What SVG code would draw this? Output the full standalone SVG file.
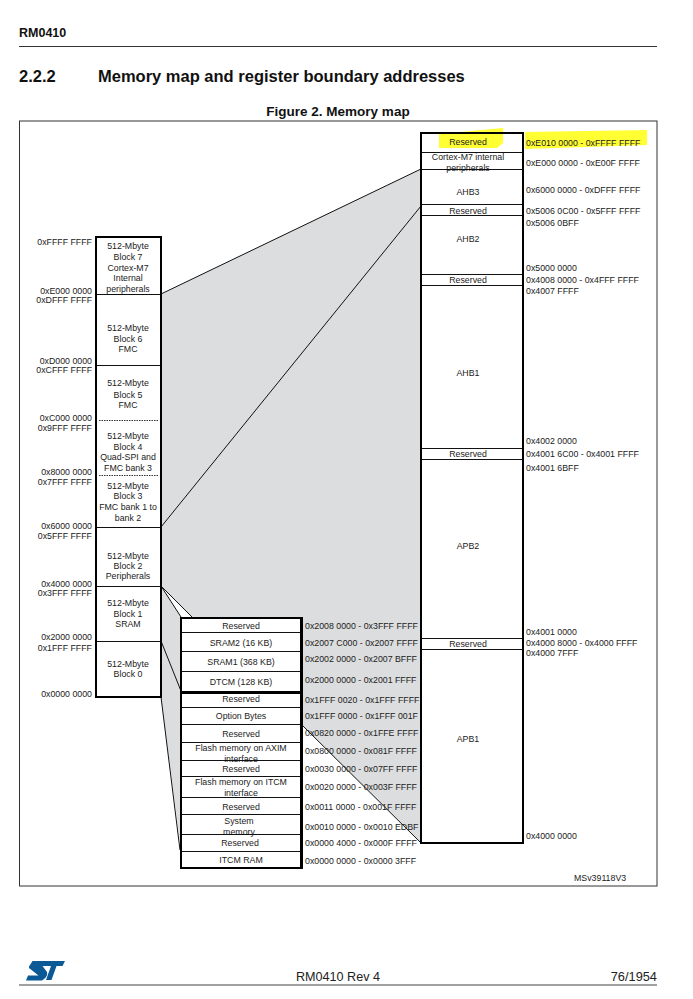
<svg xmlns="http://www.w3.org/2000/svg" width="693" height="999" viewBox="0 0 693 999">
<style>
text{font-family:"Liberation Sans",Arial,sans-serif;fill:#222}
.l{font-size:8.8px;text-anchor:middle}
.a{font-size:8.8px}
.r{font-size:8.8px;text-anchor:end}
.c{fill:none;stroke:#111;stroke-width:1;shape-rendering:crispEdges}
.f{fill:none;stroke:#000;stroke-width:2.2;shape-rendering:crispEdges}
.k{fill:none;stroke:#111;stroke-width:1}
.d{stroke:#333;stroke-width:1;stroke-dasharray:1.5 1;fill:none}
.h{font-weight:bold;fill:#111}
</style>
<rect width="693" height="999" fill="#fff"/>
<g id="page-header">
<text class="h" x="19" y="37" font-size="12.5">RM0410</text>
<line x1="19" y1="46.5" x2="657" y2="46.5" stroke="#333"/>
<text class="h" x="19" y="82" font-size="16.5">2.2.2</text>
<text class="h" x="98" y="82" font-size="16.5">Memory map and register boundary addresses</text>
<text class="h" x="338" y="116" font-size="13.5" text-anchor="middle">Figure 2. Memory map</text>
</g>
<rect id="figure-frame" x="19.5" y="121" width="637.5" height="765" fill="#fff" stroke="#333"/>
<g id="connectors">
<polygon points="161,294 421,169 421,843 301,724 301,618 192,617 181,617 161,586" fill="#dcddde"/>
<polygon points="161,586 181,617 181,850 161,697" fill="#dcddde"/>
<polygon points="161,586 181,617 192,617" fill="#fff"/>
<path class="k" d="M161 294L421 169M161 527L421 206M161 586L181 617M161 586L192 617M161 641L181 691M161 697L180 850M301 724L421 843"/>
</g>
<g id="column-backgrounds" fill="#fff">
<rect x="96" y="237" width="65" height="460"/>
<rect x="181" y="618" width="121" height="250"/>
<rect x="421" y="133" width="102" height="710"/>
</g>
<g id="highlight" fill="#ffff33">
<path d="M439 134L503 128L503 143L497 148L439 148Z"/>
<path d="M525 132L647 130L647 145L525 149Z"/>
</g>
<g id="block-7"><rect class="c" x="96" y="237" width="65" height="57"/><text class="l" x="128" y="249">512-Mbyte</text><text class="l" x="128" y="260">Block 7</text><text class="l" x="128" y="270.500">Cortex-M7</text><text class="l" x="128" y="281">Internal</text><text class="l" x="128" y="291.500">peripherals</text><text class="r" x="92" y="245">0xFFFF FFFF</text><text class="r" x="92" y="293.500">0xE000 0000</text></g>
<g id="block-6"><rect class="c" x="96" y="294" width="65" height="71.500"/><text class="l" x="128" y="331">512-Mbyte</text><text class="l" x="128" y="341.700">Block 6</text><text class="l" x="128" y="352">FMC</text><text class="r" x="92" y="303">0xDFFF FFFF</text><text class="r" x="92" y="364">0xD000 0000</text></g>
<g id="block-5"><text class="l" x="128" y="386">512-Mbyte</text><text class="l" x="128" y="397.500">Block 5</text><text class="l" x="128" y="408">FMC</text><text class="r" x="92" y="373">0xCFFF FFFF</text><text class="r" x="92" y="420.500">0xC000 0000</text></g>
<g id="block-4"><text class="l" x="128" y="438.500">512-Mbyte</text><text class="l" x="128" y="449.500">Block 4</text><text class="l" x="128" y="460">Quad-SPI and</text><text class="l" x="128" y="470.500">FMC bank 3</text><text class="r" x="92" y="430.500">0x9FFF FFFF</text><text class="r" x="92" y="475">0x8000 0000</text><path class="d" d="M99 420.500H159"/></g>
<g id="block-3"><text class="l" x="128" y="488.500">512-Mbyte</text><text class="l" x="128" y="498.500">Block 3</text><text class="l" x="128" y="510">FMC bank 1 to</text><text class="l" x="128" y="520.500">bank 2</text><text class="r" x="92" y="485">0x7FFF FFFF</text><text class="r" x="92" y="528.500">0x6000 0000</text><path class="d" d="M99 475.500H159"/></g>
<g id="block-2"><rect class="c" x="96" y="527" width="65" height="59"/><text class="l" x="128" y="558.500">512-Mbyte</text><text class="l" x="128" y="569">Block 2</text><text class="l" x="128" y="579">Peripherals</text><text class="r" x="92" y="538.500">0x5FFF FFFF</text><text class="r" x="92" y="586.500">0x4000 0000</text></g>
<g id="block-1"><rect class="c" x="96" y="586" width="65" height="55"/><text class="l" x="128" y="606">512-Mbyte</text><text class="l" x="128" y="616.500">Block 1</text><text class="l" x="128" y="627">SRAM</text><text class="r" x="92" y="596">0x3FFF FFFF</text><text class="r" x="92" y="640">0x2000 0000</text></g>
<g id="block-0"><rect class="c" x="96" y="641" width="65" height="56"/><text class="l" x="128" y="666.500">512-Mbyte</text><text class="l" x="128" y="677">Block 0</text><text class="r" x="92" y="651">0x1FFF FFFF</text><text class="r" x="92" y="696.500">0x0000 0000</text></g>
<rect id="blocks-outline" class="f" x="96" y="237" width="65" height="460"/>
<g id="sram-reserved"><rect class="c" x="181" y="618" width="121" height="14"/><text class="l" x="241" y="629">Reserved</text><text class="a" x="305" y="629">0x2008 0000 - 0x3FFF FFFF</text></g>
<g id="sram2"><rect class="c" x="181" y="632" width="121" height="19"/><text class="l" x="241" y="645.500">SRAM2 (16 KB)</text><text class="a" x="305" y="646">0x2007 C000 - 0x2007 FFFF</text></g>
<g id="sram1"><rect class="c" x="181" y="651" width="121" height="20.500"/><text class="l" x="241" y="665">SRAM1 (368 KB)</text><text class="a" x="305" y="662">0x2002 0000 - 0x2007 BFFF</text></g>
<g id="dtcm"><rect class="c" x="181" y="671.500" width="121" height="21"/><text class="l" x="241" y="684.500">DTCM (128 KB)</text><text class="a" x="305" y="683">0x2000 0000 - 0x2001 FFFF</text></g>
<g id="code-reserved-1"><rect class="c" x="181" y="692.500" width="121" height="14.500"/><text class="l" x="241" y="702">Reserved</text><text class="a" x="305" y="703">0x1FFF 0020 - 0x1FFF FFFF</text></g>
<g id="option-bytes"><rect class="c" x="181" y="707" width="121" height="17.500"/><text class="l" x="241" y="719">Option Bytes</text><text class="a" x="305" y="718.500">0x1FFF 0000 - 0x1FFF 001F</text></g>
<g id="code-reserved-2"><rect class="c" x="181" y="724.500" width="121" height="17.500"/><text class="l" x="241" y="736.500">Reserved</text><text class="a" x="305" y="736">0x0820 0000 - 0x1FFE FFFF</text></g>
<g id="flash-axim"><rect class="c" x="181" y="742" width="121" height="18.500"/><text class="l" x="241" y="751">Flash memory on AXIM</text><text class="l" x="241" y="761.500">interface</text><text class="a" x="305" y="754">0x0800 0000 - 0x081F FFFF</text></g>
<g id="code-reserved-3"><rect class="c" x="181" y="760.500" width="121" height="15.500"/><text class="l" x="241" y="771.500">Reserved</text><text class="a" x="305" y="771.500">0x0030 0000 - 0x07FF FFFF</text></g>
<g id="flash-itcm"><rect class="c" x="181" y="776" width="121" height="21"/><text class="l" x="241" y="785">Flash memory on ITCM</text><text class="l" x="241" y="795.500">interface</text><text class="a" x="305" y="790">0x0020 0000 - 0x003F FFFF</text></g>
<g id="code-reserved-4"><rect class="c" x="181" y="797" width="121" height="17"/><text class="l" x="241" y="809.500">Reserved</text><text class="a" x="305" y="809.500">0x0011 0000 - 0x001F FFFF</text></g>
<g id="system-memory"><rect class="c" x="181" y="814" width="121" height="20"/><text class="l" x="239" y="824">System</text><text class="l" x="239" y="834.500">memory</text><text class="a" x="305" y="829.500">0x0010 0000 - 0x0010 EDBF</text></g>
<g id="code-reserved-5"><rect class="c" x="181" y="834" width="121" height="17.500"/><text class="l" x="240" y="845.500">Reserved</text><text class="a" x="305" y="845.500">0x0000 4000 - 0x000F FFFF</text></g>
<g id="itcm-ram"><rect class="c" x="181" y="851.500" width="121" height="16.500"/><text class="l" x="241" y="862.500">ITCM RAM</text><text class="a" x="305" y="864">0x0000 0000 - 0x0000 3FFF</text></g>
<rect id="sram-outline" class="f" x="181" y="618" width="120.500" height="74.500"/>
<rect id="code-outline" class="f" x="181" y="692.500" width="120.500" height="175.500"/>
<g id="periph-reserved-top"><rect class="c" x="421" y="133" width="102" height="19"/><text class="l" x="468" y="145">Reserved</text><text class="a" x="526" y="146">0xE010 0000 - 0xFFFF FFFF</text></g>
<g id="cortex-m7"><rect class="c" x="421" y="152" width="102" height="17.500"/><text class="l" x="468" y="160">Cortex-M7 internal</text><text class="l" x="468" y="170.500">peripherals</text><text class="a" x="526" y="166">0xE000 0000 - 0xE00F FFFF</text></g>
<g id="ahb3"><rect class="c" x="421" y="169.500" width="102" height="34.500"/><text class="l" x="468" y="195">AHB3</text><text class="a" x="526" y="193">0x6000 0000 - 0xDFFF FFFF</text></g>
<g id="periph-reserved-2"><rect class="c" x="421" y="204" width="102" height="11.500"/><text class="l" x="468" y="214">Reserved</text><text class="a" x="526" y="214">0x5006 0C00 - 0x5FFF FFFF</text></g>
<g id="ahb2"><rect class="c" x="421" y="215.500" width="102" height="59"/><text class="l" x="468" y="242">AHB2</text><text class="a" x="526" y="226">0x5006 0BFF</text><text class="a" x="526" y="271">0x5000 0000</text></g>
<g id="periph-reserved-3"><rect class="c" x="421" y="274.500" width="102" height="11"/><text class="l" x="468" y="283">Reserved</text><text class="a" x="526" y="282.500">0x4008 0000 - 0x4FFF FFFF</text></g>
<g id="ahb1"><rect class="c" x="421" y="285.500" width="102" height="162.500"/><text class="l" x="468" y="376">AHB1</text><text class="a" x="526" y="294">0x4007 FFFF</text><text class="a" x="526" y="444">0x4002 0000</text></g>
<g id="periph-reserved-4"><rect class="c" x="421" y="448" width="102" height="11.500"/><text class="l" x="468" y="456.500">Reserved</text><text class="a" x="526" y="457">0x4001 6C00 - 0x4001 FFFF</text></g>
<g id="apb2"><rect class="c" x="421" y="459.500" width="102" height="178.500"/><text class="l" x="468" y="549">APB2</text><text class="a" x="526" y="471">0x4001 6BFF</text><text class="a" x="526" y="635">0x4001 0000</text></g>
<g id="periph-reserved-5"><rect class="c" x="421" y="638" width="102" height="11"/><text class="l" x="468" y="646.500">Reserved</text><text class="a" x="526" y="645.500">0x4000 8000 - 0x4000 FFFF</text></g>
<g id="apb1"><rect class="c" x="421" y="649" width="102" height="194"/><text class="l" x="468" y="742">APB1</text><text class="a" x="526" y="655.500">0x4000 7FFF</text><text class="a" x="526" y="839">0x4000 0000</text></g>
<rect id="periph-outline" class="f" x="421" y="133" width="102" height="710"/>
<text id="figure-ref" x="574" y="881" font-size="8.800">MSv39118V3</text>
<g id="page-footer">
<path id="st-logo" fill="#0b5a96" d="M32.500 961H65L62.500 966H56.500L51.500 980H46L51 966H42.500L47 972Q48 976 44 979L42 980.500H26L28 975.500H38.500L29 968Q28.500 966.500 30 965Z"/>
<text x="338" y="981" font-size="12.600" text-anchor="middle">RM0410 Rev 4</text>
<text x="657" y="981" font-size="12.800" text-anchor="end">76/1954</text>
<line x1="19" y1="985" x2="657" y2="985" stroke="#444" stroke-width="1.200"/>
</g>
</svg>
